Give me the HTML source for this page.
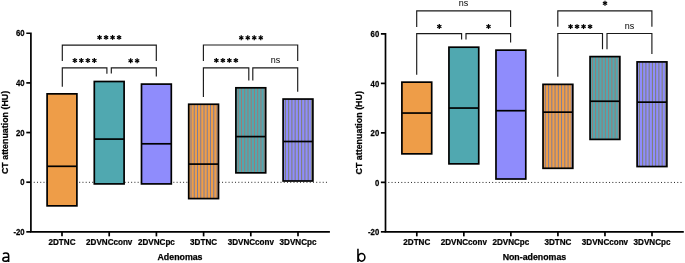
<!DOCTYPE html>
<html><head><meta charset="utf-8"><style>
html,body{margin:0;padding:0;background:#fff;width:685px;height:263px;overflow:hidden}
svg{display:block;will-change:transform}
text{font-family:"Liberation Sans", sans-serif;fill:#000}
</style></head><body>
<svg width="685" height="263" viewBox="0 0 685 263">

<line x1="33.75" y1="182.30" x2="328.30" y2="182.30" stroke="#222" stroke-width="1" stroke-dasharray="1 2.2467"/>
<rect x="47.10" y="93.85" width="29.80" height="112.00" fill="#EE9D48"/>
<rect x="47.10" y="93.85" width="29.80" height="112.00" fill="none" stroke="#000" stroke-width="1.7"/>
<line x1="47.10" y1="166.30" x2="76.90" y2="166.30" stroke="#000" stroke-width="1.7"/>
<rect x="94.30" y="81.50" width="29.80" height="102.40" fill="#50A8B0"/>
<rect x="94.30" y="81.50" width="29.80" height="102.40" fill="none" stroke="#000" stroke-width="1.7"/>
<line x1="94.30" y1="139.10" x2="124.10" y2="139.10" stroke="#000" stroke-width="1.7"/>
<rect x="141.50" y="84.10" width="29.80" height="99.80" fill="#8F8CFC"/>
<rect x="141.50" y="84.10" width="29.80" height="99.80" fill="none" stroke="#000" stroke-width="1.7"/>
<line x1="141.50" y1="143.80" x2="171.30" y2="143.80" stroke="#000" stroke-width="1.7"/>
<rect x="188.70" y="104.25" width="29.80" height="94.35" fill="#EE9D48"/>
<line x1="191.00" y1="104.25" x2="191.00" y2="198.60" stroke="#7D7D9B" stroke-width="1"/>
<line x1="194.25" y1="104.25" x2="194.25" y2="198.60" stroke="#7D7D9B" stroke-width="1"/>
<line x1="197.50" y1="104.25" x2="197.50" y2="198.60" stroke="#7D7D9B" stroke-width="1"/>
<line x1="200.75" y1="104.25" x2="200.75" y2="198.60" stroke="#7D7D9B" stroke-width="1"/>
<line x1="204.00" y1="104.25" x2="204.00" y2="198.60" stroke="#7D7D9B" stroke-width="1"/>
<line x1="207.25" y1="104.25" x2="207.25" y2="198.60" stroke="#7D7D9B" stroke-width="1"/>
<line x1="210.50" y1="104.25" x2="210.50" y2="198.60" stroke="#7D7D9B" stroke-width="1"/>
<line x1="213.75" y1="104.25" x2="213.75" y2="198.60" stroke="#7D7D9B" stroke-width="1"/>
<line x1="217.00" y1="104.25" x2="217.00" y2="198.60" stroke="#7D7D9B" stroke-width="1"/>
<rect x="188.70" y="104.25" width="29.80" height="94.35" fill="none" stroke="#000" stroke-width="1.7"/>
<line x1="188.70" y1="164.10" x2="218.50" y2="164.10" stroke="#000" stroke-width="1.7"/>
<rect x="235.90" y="87.80" width="29.80" height="85.05" fill="#50A8B0"/>
<line x1="238.20" y1="87.80" x2="238.20" y2="172.85" stroke="#A07873" stroke-width="1"/>
<line x1="241.45" y1="87.80" x2="241.45" y2="172.85" stroke="#A07873" stroke-width="1"/>
<line x1="244.70" y1="87.80" x2="244.70" y2="172.85" stroke="#A07873" stroke-width="1"/>
<line x1="247.95" y1="87.80" x2="247.95" y2="172.85" stroke="#A07873" stroke-width="1"/>
<line x1="251.20" y1="87.80" x2="251.20" y2="172.85" stroke="#A07873" stroke-width="1"/>
<line x1="254.45" y1="87.80" x2="254.45" y2="172.85" stroke="#A07873" stroke-width="1"/>
<line x1="257.70" y1="87.80" x2="257.70" y2="172.85" stroke="#A07873" stroke-width="1"/>
<line x1="260.95" y1="87.80" x2="260.95" y2="172.85" stroke="#A07873" stroke-width="1"/>
<line x1="264.20" y1="87.80" x2="264.20" y2="172.85" stroke="#A07873" stroke-width="1"/>
<rect x="235.90" y="87.80" width="29.80" height="85.05" fill="none" stroke="#000" stroke-width="1.7"/>
<line x1="235.90" y1="136.60" x2="265.70" y2="136.60" stroke="#000" stroke-width="1.7"/>
<rect x="283.10" y="99.05" width="29.80" height="81.95" fill="#8F8CFC"/>
<line x1="285.40" y1="99.05" x2="285.40" y2="181.00" stroke="#7D806E" stroke-width="1"/>
<line x1="288.65" y1="99.05" x2="288.65" y2="181.00" stroke="#7D806E" stroke-width="1"/>
<line x1="291.90" y1="99.05" x2="291.90" y2="181.00" stroke="#7D806E" stroke-width="1"/>
<line x1="295.15" y1="99.05" x2="295.15" y2="181.00" stroke="#7D806E" stroke-width="1"/>
<line x1="298.40" y1="99.05" x2="298.40" y2="181.00" stroke="#7D806E" stroke-width="1"/>
<line x1="301.65" y1="99.05" x2="301.65" y2="181.00" stroke="#7D806E" stroke-width="1"/>
<line x1="304.90" y1="99.05" x2="304.90" y2="181.00" stroke="#7D806E" stroke-width="1"/>
<line x1="308.15" y1="99.05" x2="308.15" y2="181.00" stroke="#7D806E" stroke-width="1"/>
<line x1="311.40" y1="99.05" x2="311.40" y2="181.00" stroke="#7D806E" stroke-width="1"/>
<rect x="283.10" y="99.05" width="29.80" height="81.95" fill="none" stroke="#000" stroke-width="1.7"/>
<line x1="283.10" y1="141.50" x2="312.90" y2="141.50" stroke="#000" stroke-width="1.7"/>
<path d="M26.30 33.25H30.90V231.85H329.90" fill="none" stroke="#000" stroke-width="1.7"/>
<line x1="26.30" y1="82.90" x2="30.90" y2="82.90" stroke="#000" stroke-width="1.7"/>
<line x1="26.30" y1="132.55" x2="30.90" y2="132.55" stroke="#000" stroke-width="1.7"/>
<line x1="26.30" y1="182.20" x2="30.90" y2="182.20" stroke="#000" stroke-width="1.7"/>
<line x1="26.30" y1="231.85" x2="30.90" y2="231.85" stroke="#000" stroke-width="1.7"/>
<text transform="translate(24.60 36.45) scale(0.86 1.0)" font-size="9" font-weight="bold" stroke="#000" stroke-width="0.25" text-anchor="end">60</text>
<text transform="translate(24.60 86.10) scale(0.86 1.0)" font-size="9" font-weight="bold" stroke="#000" stroke-width="0.25" text-anchor="end">40</text>
<text transform="translate(24.60 135.75) scale(0.86 1.0)" font-size="9" font-weight="bold" stroke="#000" stroke-width="0.25" text-anchor="end">20</text>
<text transform="translate(24.60 185.40) scale(0.86 1.0)" font-size="9" font-weight="bold" stroke="#000" stroke-width="0.25" text-anchor="end">0</text>
<text transform="translate(24.60 235.05) scale(0.86 1.0)" font-size="9" font-weight="bold" stroke="#000" stroke-width="0.25" text-anchor="end">-20</text>
<line x1="62.00" y1="231.85" x2="62.00" y2="236.35" stroke="#000" stroke-width="1.7"/>
<text transform="translate(62.00 245.25) scale(0.9 1.0)" font-size="9" font-weight="bold" stroke="#000" stroke-width="0.25" text-anchor="middle">2DTNC</text>
<line x1="109.20" y1="231.85" x2="109.20" y2="236.35" stroke="#000" stroke-width="1.7"/>
<text transform="translate(109.20 245.25) scale(0.9 1.0)" font-size="9" font-weight="bold" stroke="#000" stroke-width="0.25" text-anchor="middle">2DVNCconv</text>
<line x1="156.40" y1="231.85" x2="156.40" y2="236.35" stroke="#000" stroke-width="1.7"/>
<text transform="translate(156.40 245.25) scale(0.9 1.0)" font-size="9" font-weight="bold" stroke="#000" stroke-width="0.25" text-anchor="middle">2DVNCpc</text>
<line x1="203.60" y1="231.85" x2="203.60" y2="236.35" stroke="#000" stroke-width="1.7"/>
<text transform="translate(203.60 245.25) scale(0.9 1.0)" font-size="9" font-weight="bold" stroke="#000" stroke-width="0.25" text-anchor="middle">3DTNC</text>
<line x1="250.80" y1="231.85" x2="250.80" y2="236.35" stroke="#000" stroke-width="1.7"/>
<text transform="translate(250.80 245.25) scale(0.9 1.0)" font-size="9" font-weight="bold" stroke="#000" stroke-width="0.25" text-anchor="middle">3DVNCconv</text>
<line x1="298.00" y1="231.85" x2="298.00" y2="236.35" stroke="#000" stroke-width="1.7"/>
<text transform="translate(298.00 245.25) scale(0.9 1.0)" font-size="9" font-weight="bold" stroke="#000" stroke-width="0.25" text-anchor="middle">3DVNCpc</text>
<text transform="translate(180.00 260.00)" font-size="8.8" font-weight="bold" stroke="#000" stroke-width="0.25" text-anchor="middle">Adenomas</text>
<text transform="translate(7.70 132.45) rotate(-90)" font-size="8.9" font-weight="bold" stroke="#000" stroke-width="0.25" text-anchor="middle">CT attenuation (HU)</text>
<path d="M8.65 255.2V262.0M3.1 253.9C3.9 253.0 4.9 252.95 5.9 252.95C7.7 252.95 8.65 253.9 8.65 255.6M8.65 257.3H5.8C3.8 257.3 2.85 258.3 2.85 259.55C2.85 260.7 3.7 261.25 5.0 261.25C6.6 261.25 8.3 260.4 8.65 259.2" fill="none" stroke="#000" stroke-width="1.5"/>
<path d="M62.30 61.00V45.10H156.30V61.00" fill="none" stroke="#1a1a1a" stroke-width="1.15"/>
<line x1="99.55" y1="34.95" x2="99.55" y2="39.85" stroke="#000" stroke-width="1.25"/>
<line x1="97.43" y1="36.17" x2="101.67" y2="38.62" stroke="#000" stroke-width="1.25"/>
<line x1="101.67" y1="36.17" x2="97.43" y2="38.62" stroke="#000" stroke-width="1.25"/>
<line x1="106.05" y1="34.95" x2="106.05" y2="39.85" stroke="#000" stroke-width="1.25"/>
<line x1="103.93" y1="36.17" x2="108.17" y2="38.62" stroke="#000" stroke-width="1.25"/>
<line x1="108.17" y1="36.17" x2="103.93" y2="38.62" stroke="#000" stroke-width="1.25"/>
<line x1="112.55" y1="34.95" x2="112.55" y2="39.85" stroke="#000" stroke-width="1.25"/>
<line x1="110.43" y1="36.17" x2="114.67" y2="38.62" stroke="#000" stroke-width="1.25"/>
<line x1="114.67" y1="36.17" x2="110.43" y2="38.62" stroke="#000" stroke-width="1.25"/>
<line x1="119.05" y1="34.95" x2="119.05" y2="39.85" stroke="#000" stroke-width="1.25"/>
<line x1="116.93" y1="36.17" x2="121.17" y2="38.62" stroke="#000" stroke-width="1.25"/>
<line x1="121.17" y1="36.17" x2="116.93" y2="38.62" stroke="#000" stroke-width="1.25"/>
<path d="M62.30 86.70V67.80H106.90V73.70" fill="none" stroke="#1a1a1a" stroke-width="1.15"/>
<line x1="74.85" y1="58.05" x2="74.85" y2="62.95" stroke="#000" stroke-width="1.25"/>
<line x1="72.73" y1="59.27" x2="76.97" y2="61.73" stroke="#000" stroke-width="1.25"/>
<line x1="76.97" y1="59.27" x2="72.73" y2="61.73" stroke="#000" stroke-width="1.25"/>
<line x1="81.35" y1="58.05" x2="81.35" y2="62.95" stroke="#000" stroke-width="1.25"/>
<line x1="79.23" y1="59.27" x2="83.47" y2="61.73" stroke="#000" stroke-width="1.25"/>
<line x1="83.47" y1="59.27" x2="79.23" y2="61.73" stroke="#000" stroke-width="1.25"/>
<line x1="87.85" y1="58.05" x2="87.85" y2="62.95" stroke="#000" stroke-width="1.25"/>
<line x1="85.73" y1="59.27" x2="89.97" y2="61.73" stroke="#000" stroke-width="1.25"/>
<line x1="89.97" y1="59.27" x2="85.73" y2="61.73" stroke="#000" stroke-width="1.25"/>
<line x1="94.35" y1="58.05" x2="94.35" y2="62.95" stroke="#000" stroke-width="1.25"/>
<line x1="92.23" y1="59.27" x2="96.47" y2="61.73" stroke="#000" stroke-width="1.25"/>
<line x1="96.47" y1="59.27" x2="92.23" y2="61.73" stroke="#000" stroke-width="1.25"/>
<path d="M111.30 73.60V67.80H156.30V76.60" fill="none" stroke="#1a1a1a" stroke-width="1.15"/>
<line x1="130.65" y1="58.25" x2="130.65" y2="63.15" stroke="#000" stroke-width="1.25"/>
<line x1="128.53" y1="59.48" x2="132.77" y2="61.93" stroke="#000" stroke-width="1.25"/>
<line x1="132.77" y1="59.48" x2="128.53" y2="61.93" stroke="#000" stroke-width="1.25"/>
<line x1="137.15" y1="58.25" x2="137.15" y2="63.15" stroke="#000" stroke-width="1.25"/>
<line x1="135.03" y1="59.48" x2="139.27" y2="61.93" stroke="#000" stroke-width="1.25"/>
<line x1="139.27" y1="59.48" x2="135.03" y2="61.93" stroke="#000" stroke-width="1.25"/>
<path d="M203.40 61.00V45.00H297.70V61.00" fill="none" stroke="#1a1a1a" stroke-width="1.15"/>
<line x1="241.25" y1="35.35" x2="241.25" y2="40.25" stroke="#000" stroke-width="1.25"/>
<line x1="239.13" y1="36.57" x2="243.37" y2="39.02" stroke="#000" stroke-width="1.25"/>
<line x1="243.37" y1="36.57" x2="239.13" y2="39.02" stroke="#000" stroke-width="1.25"/>
<line x1="247.75" y1="35.35" x2="247.75" y2="40.25" stroke="#000" stroke-width="1.25"/>
<line x1="245.63" y1="36.57" x2="249.87" y2="39.02" stroke="#000" stroke-width="1.25"/>
<line x1="249.87" y1="36.57" x2="245.63" y2="39.02" stroke="#000" stroke-width="1.25"/>
<line x1="254.25" y1="35.35" x2="254.25" y2="40.25" stroke="#000" stroke-width="1.25"/>
<line x1="252.13" y1="36.57" x2="256.37" y2="39.02" stroke="#000" stroke-width="1.25"/>
<line x1="256.37" y1="36.57" x2="252.13" y2="39.02" stroke="#000" stroke-width="1.25"/>
<line x1="260.75" y1="35.35" x2="260.75" y2="40.25" stroke="#000" stroke-width="1.25"/>
<line x1="258.63" y1="36.57" x2="262.87" y2="39.02" stroke="#000" stroke-width="1.25"/>
<line x1="262.87" y1="36.57" x2="258.63" y2="39.02" stroke="#000" stroke-width="1.25"/>
<path d="M203.40 97.00V67.80H248.80V80.50" fill="none" stroke="#1a1a1a" stroke-width="1.15"/>
<line x1="216.35" y1="57.95" x2="216.35" y2="62.85" stroke="#000" stroke-width="1.25"/>
<line x1="214.23" y1="59.17" x2="218.47" y2="61.62" stroke="#000" stroke-width="1.25"/>
<line x1="218.47" y1="59.17" x2="214.23" y2="61.62" stroke="#000" stroke-width="1.25"/>
<line x1="222.85" y1="57.95" x2="222.85" y2="62.85" stroke="#000" stroke-width="1.25"/>
<line x1="220.73" y1="59.17" x2="224.97" y2="61.62" stroke="#000" stroke-width="1.25"/>
<line x1="224.97" y1="59.17" x2="220.73" y2="61.62" stroke="#000" stroke-width="1.25"/>
<line x1="229.35" y1="57.95" x2="229.35" y2="62.85" stroke="#000" stroke-width="1.25"/>
<line x1="227.23" y1="59.17" x2="231.47" y2="61.62" stroke="#000" stroke-width="1.25"/>
<line x1="231.47" y1="59.17" x2="227.23" y2="61.62" stroke="#000" stroke-width="1.25"/>
<line x1="235.85" y1="57.95" x2="235.85" y2="62.85" stroke="#000" stroke-width="1.25"/>
<line x1="233.73" y1="59.17" x2="237.97" y2="61.62" stroke="#000" stroke-width="1.25"/>
<line x1="237.97" y1="59.17" x2="233.73" y2="61.62" stroke="#000" stroke-width="1.25"/>
<path d="M252.80 80.50V67.80H297.70V91.80" fill="none" stroke="#1a1a1a" stroke-width="1.15"/>
<text transform="translate(275.50 62.60)" font-size="9" text-anchor="middle">ns</text>
<line x1="388.30" y1="182.45" x2="681.80" y2="182.45" stroke="#222" stroke-width="1" stroke-dasharray="1 2.2467"/>
<rect x="401.90" y="82.15" width="29.80" height="71.70" fill="#EE9D48"/>
<rect x="401.90" y="82.15" width="29.80" height="71.70" fill="none" stroke="#000" stroke-width="1.7"/>
<line x1="401.90" y1="113.05" x2="431.70" y2="113.05" stroke="#000" stroke-width="1.7"/>
<rect x="448.94" y="47.20" width="29.80" height="116.65" fill="#50A8B0"/>
<rect x="448.94" y="47.20" width="29.80" height="116.65" fill="none" stroke="#000" stroke-width="1.7"/>
<line x1="448.94" y1="108.05" x2="478.74" y2="108.05" stroke="#000" stroke-width="1.7"/>
<rect x="495.98" y="50.15" width="29.80" height="128.85" fill="#8F8CFC"/>
<rect x="495.98" y="50.15" width="29.80" height="128.85" fill="none" stroke="#000" stroke-width="1.7"/>
<line x1="495.98" y1="110.70" x2="525.78" y2="110.70" stroke="#000" stroke-width="1.7"/>
<rect x="543.02" y="84.35" width="29.80" height="83.95" fill="#EE9D48"/>
<line x1="545.32" y1="84.35" x2="545.32" y2="168.30" stroke="#7D7D9B" stroke-width="1"/>
<line x1="548.57" y1="84.35" x2="548.57" y2="168.30" stroke="#7D7D9B" stroke-width="1"/>
<line x1="551.82" y1="84.35" x2="551.82" y2="168.30" stroke="#7D7D9B" stroke-width="1"/>
<line x1="555.07" y1="84.35" x2="555.07" y2="168.30" stroke="#7D7D9B" stroke-width="1"/>
<line x1="558.32" y1="84.35" x2="558.32" y2="168.30" stroke="#7D7D9B" stroke-width="1"/>
<line x1="561.57" y1="84.35" x2="561.57" y2="168.30" stroke="#7D7D9B" stroke-width="1"/>
<line x1="564.82" y1="84.35" x2="564.82" y2="168.30" stroke="#7D7D9B" stroke-width="1"/>
<line x1="568.07" y1="84.35" x2="568.07" y2="168.30" stroke="#7D7D9B" stroke-width="1"/>
<line x1="571.32" y1="84.35" x2="571.32" y2="168.30" stroke="#7D7D9B" stroke-width="1"/>
<rect x="543.02" y="84.35" width="29.80" height="83.95" fill="none" stroke="#000" stroke-width="1.7"/>
<line x1="543.02" y1="112.15" x2="572.82" y2="112.15" stroke="#000" stroke-width="1.7"/>
<rect x="590.06" y="56.60" width="29.80" height="82.80" fill="#50A8B0"/>
<line x1="592.36" y1="56.60" x2="592.36" y2="139.40" stroke="#A07873" stroke-width="1"/>
<line x1="595.61" y1="56.60" x2="595.61" y2="139.40" stroke="#A07873" stroke-width="1"/>
<line x1="598.86" y1="56.60" x2="598.86" y2="139.40" stroke="#A07873" stroke-width="1"/>
<line x1="602.11" y1="56.60" x2="602.11" y2="139.40" stroke="#A07873" stroke-width="1"/>
<line x1="605.36" y1="56.60" x2="605.36" y2="139.40" stroke="#A07873" stroke-width="1"/>
<line x1="608.61" y1="56.60" x2="608.61" y2="139.40" stroke="#A07873" stroke-width="1"/>
<line x1="611.86" y1="56.60" x2="611.86" y2="139.40" stroke="#A07873" stroke-width="1"/>
<line x1="615.11" y1="56.60" x2="615.11" y2="139.40" stroke="#A07873" stroke-width="1"/>
<line x1="618.36" y1="56.60" x2="618.36" y2="139.40" stroke="#A07873" stroke-width="1"/>
<rect x="590.06" y="56.60" width="29.80" height="82.80" fill="none" stroke="#000" stroke-width="1.7"/>
<line x1="590.06" y1="101.25" x2="619.86" y2="101.25" stroke="#000" stroke-width="1.7"/>
<rect x="637.10" y="61.90" width="29.80" height="104.65" fill="#8F8CFC"/>
<line x1="639.40" y1="61.90" x2="639.40" y2="166.55" stroke="#7D806E" stroke-width="1"/>
<line x1="642.65" y1="61.90" x2="642.65" y2="166.55" stroke="#7D806E" stroke-width="1"/>
<line x1="645.90" y1="61.90" x2="645.90" y2="166.55" stroke="#7D806E" stroke-width="1"/>
<line x1="649.15" y1="61.90" x2="649.15" y2="166.55" stroke="#7D806E" stroke-width="1"/>
<line x1="652.40" y1="61.90" x2="652.40" y2="166.55" stroke="#7D806E" stroke-width="1"/>
<line x1="655.65" y1="61.90" x2="655.65" y2="166.55" stroke="#7D806E" stroke-width="1"/>
<line x1="658.90" y1="61.90" x2="658.90" y2="166.55" stroke="#7D806E" stroke-width="1"/>
<line x1="662.15" y1="61.90" x2="662.15" y2="166.55" stroke="#7D806E" stroke-width="1"/>
<line x1="665.40" y1="61.90" x2="665.40" y2="166.55" stroke="#7D806E" stroke-width="1"/>
<rect x="637.10" y="61.90" width="29.80" height="104.65" fill="none" stroke="#000" stroke-width="1.7"/>
<line x1="637.10" y1="102.15" x2="666.90" y2="102.15" stroke="#000" stroke-width="1.7"/>
<path d="M380.90 33.91H385.50V231.83H683.80" fill="none" stroke="#000" stroke-width="1.7"/>
<line x1="380.90" y1="83.39" x2="385.50" y2="83.39" stroke="#000" stroke-width="1.7"/>
<line x1="380.90" y1="132.87" x2="385.50" y2="132.87" stroke="#000" stroke-width="1.7"/>
<line x1="380.90" y1="182.35" x2="385.50" y2="182.35" stroke="#000" stroke-width="1.7"/>
<line x1="380.90" y1="231.83" x2="385.50" y2="231.83" stroke="#000" stroke-width="1.7"/>
<text transform="translate(379.20 37.11) scale(0.86 1.0)" font-size="9" font-weight="bold" stroke="#000" stroke-width="0.25" text-anchor="end">60</text>
<text transform="translate(379.20 86.59) scale(0.86 1.0)" font-size="9" font-weight="bold" stroke="#000" stroke-width="0.25" text-anchor="end">40</text>
<text transform="translate(379.20 136.07) scale(0.86 1.0)" font-size="9" font-weight="bold" stroke="#000" stroke-width="0.25" text-anchor="end">20</text>
<text transform="translate(379.20 185.55) scale(0.86 1.0)" font-size="9" font-weight="bold" stroke="#000" stroke-width="0.25" text-anchor="end">0</text>
<text transform="translate(379.20 235.03) scale(0.86 1.0)" font-size="9" font-weight="bold" stroke="#000" stroke-width="0.25" text-anchor="end">-20</text>
<line x1="416.80" y1="231.83" x2="416.80" y2="236.33" stroke="#000" stroke-width="1.7"/>
<text transform="translate(416.80 245.25) scale(0.9 1.0)" font-size="9" font-weight="bold" stroke="#000" stroke-width="0.25" text-anchor="middle">2DTNC</text>
<line x1="463.84" y1="231.83" x2="463.84" y2="236.33" stroke="#000" stroke-width="1.7"/>
<text transform="translate(463.84 245.25) scale(0.9 1.0)" font-size="9" font-weight="bold" stroke="#000" stroke-width="0.25" text-anchor="middle">2DVNCconv</text>
<line x1="510.88" y1="231.83" x2="510.88" y2="236.33" stroke="#000" stroke-width="1.7"/>
<text transform="translate(510.88 245.25) scale(0.9 1.0)" font-size="9" font-weight="bold" stroke="#000" stroke-width="0.25" text-anchor="middle">2DVNCpc</text>
<line x1="557.92" y1="231.83" x2="557.92" y2="236.33" stroke="#000" stroke-width="1.7"/>
<text transform="translate(557.92 245.25) scale(0.9 1.0)" font-size="9" font-weight="bold" stroke="#000" stroke-width="0.25" text-anchor="middle">3DTNC</text>
<line x1="604.96" y1="231.83" x2="604.96" y2="236.33" stroke="#000" stroke-width="1.7"/>
<text transform="translate(604.96 245.25) scale(0.9 1.0)" font-size="9" font-weight="bold" stroke="#000" stroke-width="0.25" text-anchor="middle">3DVNCconv</text>
<line x1="652.00" y1="231.83" x2="652.00" y2="236.33" stroke="#000" stroke-width="1.7"/>
<text transform="translate(652.00 245.25) scale(0.9 1.0)" font-size="9" font-weight="bold" stroke="#000" stroke-width="0.25" text-anchor="middle">3DVNCpc</text>
<text transform="translate(534.40 260.00)" font-size="8.8" font-weight="bold" stroke="#000" stroke-width="0.25" text-anchor="middle">Non-adenomas</text>
<text transform="translate(362.10 132.80) rotate(-90)" font-size="8.9" font-weight="bold" stroke="#000" stroke-width="0.25" text-anchor="middle">CT attenuation (HU)</text>
<path d="M357.95 248.8V261.9M358.3 257.35A3.3 3.8 0 1 0 364.9 257.35A3.3 3.8 0 1 0 358.3 257.35" fill="none" stroke="#000" stroke-width="1.55"/>
<path d="M416.70 27.10V10.90H510.60V27.10" fill="none" stroke="#1a1a1a" stroke-width="1.15"/>
<text transform="translate(463.50 5.60)" font-size="9" text-anchor="middle">ns</text>
<path d="M416.70 74.80V33.60H461.60V39.60" fill="none" stroke="#1a1a1a" stroke-width="1.15"/>
<line x1="439.30" y1="24.05" x2="439.30" y2="28.95" stroke="#000" stroke-width="1.25"/>
<line x1="437.18" y1="25.27" x2="441.42" y2="27.73" stroke="#000" stroke-width="1.25"/>
<line x1="441.42" y1="25.27" x2="437.18" y2="27.73" stroke="#000" stroke-width="1.25"/>
<path d="M466.00 39.60V33.60H510.60V42.40" fill="none" stroke="#1a1a1a" stroke-width="1.15"/>
<line x1="488.50" y1="24.05" x2="488.50" y2="28.95" stroke="#000" stroke-width="1.25"/>
<line x1="486.38" y1="25.27" x2="490.62" y2="27.73" stroke="#000" stroke-width="1.25"/>
<line x1="490.62" y1="25.27" x2="486.38" y2="27.73" stroke="#000" stroke-width="1.25"/>
<path d="M557.80 26.80V10.90H651.90V26.80" fill="none" stroke="#1a1a1a" stroke-width="1.15"/>
<line x1="605.00" y1="0.85" x2="605.00" y2="5.75" stroke="#000" stroke-width="1.25"/>
<line x1="602.88" y1="2.08" x2="607.12" y2="4.52" stroke="#000" stroke-width="1.25"/>
<line x1="607.12" y1="2.08" x2="602.88" y2="4.52" stroke="#000" stroke-width="1.25"/>
<path d="M557.80 76.70V33.50H602.50V49.30" fill="none" stroke="#1a1a1a" stroke-width="1.15"/>
<line x1="570.55" y1="24.15" x2="570.55" y2="29.05" stroke="#000" stroke-width="1.25"/>
<line x1="568.43" y1="25.38" x2="572.67" y2="27.83" stroke="#000" stroke-width="1.25"/>
<line x1="572.67" y1="25.38" x2="568.43" y2="27.83" stroke="#000" stroke-width="1.25"/>
<line x1="577.05" y1="24.15" x2="577.05" y2="29.05" stroke="#000" stroke-width="1.25"/>
<line x1="574.93" y1="25.38" x2="579.17" y2="27.83" stroke="#000" stroke-width="1.25"/>
<line x1="579.17" y1="25.38" x2="574.93" y2="27.83" stroke="#000" stroke-width="1.25"/>
<line x1="583.55" y1="24.15" x2="583.55" y2="29.05" stroke="#000" stroke-width="1.25"/>
<line x1="581.43" y1="25.38" x2="585.67" y2="27.83" stroke="#000" stroke-width="1.25"/>
<line x1="585.67" y1="25.38" x2="581.43" y2="27.83" stroke="#000" stroke-width="1.25"/>
<line x1="590.05" y1="24.15" x2="590.05" y2="29.05" stroke="#000" stroke-width="1.25"/>
<line x1="587.93" y1="25.38" x2="592.17" y2="27.83" stroke="#000" stroke-width="1.25"/>
<line x1="592.17" y1="25.38" x2="587.93" y2="27.83" stroke="#000" stroke-width="1.25"/>
<path d="M607.00 49.30V33.50H651.90V54.00" fill="none" stroke="#1a1a1a" stroke-width="1.15"/>
<text transform="translate(629.50 28.90)" font-size="9" text-anchor="middle">ns</text>
</svg>
</body></html>
